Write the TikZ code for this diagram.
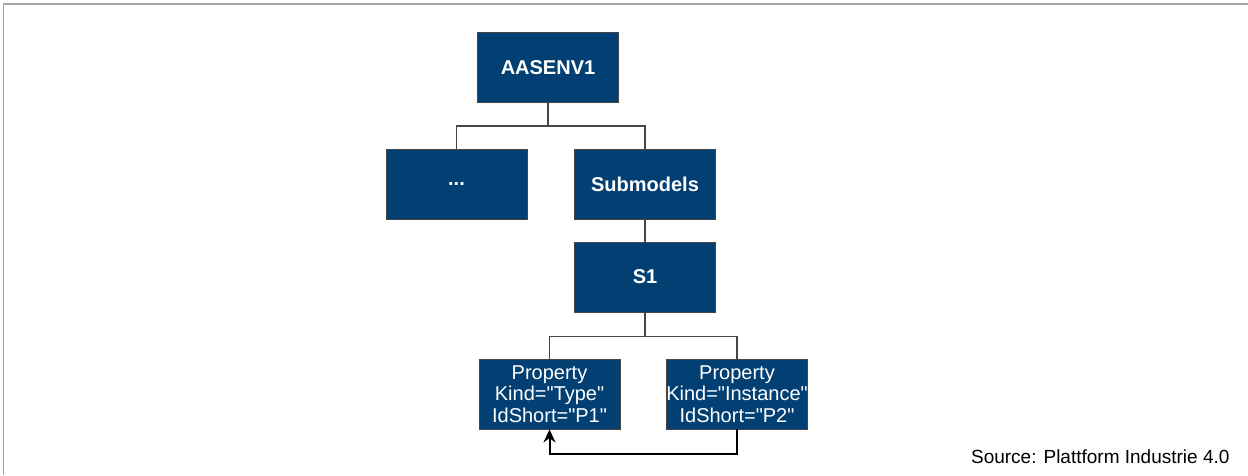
\documentclass[tikz,border=0pt]{standalone}
\usepackage{fontspec}
\setmainfont{Liberation Sans}
\usetikzlibrary{arrows.meta}
\definecolor{aasblue}{RGB}{2,64,115}
\definecolor{linegray}{RGB}{70,70,70}
\newcommand{\sq}{\XeTeXglyph\XeTeXglyphindex"quotedbl"\relax}
\begin{document}
\begin{tikzpicture}[x=1pt,y=-1pt,
    aasbox/.style={draw=linegray, line width=0.8pt, fill=aasblue, text=white,
                   minimum width=141pt, minimum height=70pt, inner sep=0pt,
                   align=center, font=\fontsize{20}{22}\selectfont\bfseries},
    propbox/.style={aasbox, font=\fontsize{20}{21.5}\selectfont},
    tree/.style={draw=linegray, line width=1.2pt},
    link/.style={draw=black, line width=2pt, -{Stealth[length=13pt,width=12pt]}}]
    \useasboundingbox (0,0) rectangle (1248,475);
    % Rahmen
    \draw[gray!70, line width=1.6pt] (3.5,475) -- (3.5,4) -- (1248,4);

    % Knoten
    \node[aasbox] (env) at (548,67.5) {AASENV1};
    \node[aasbox] (dots) at (456.5,184.5) {...};
    \node[aasbox] (sub) at (645,184.5) {Submodels};
    \node[aasbox] (s1) at (645,277) {S1};
    \node[propbox] (p1) at (549.5,394) {Property\\Kind=\sq Type\sq\\IdShort=\sq P1\sq};
    \node[propbox] (p2) at (737,394) {Property\\Kind=\sq Instance\sq\\IdShort=\sq P2\sq};

    % Verbindungen
    \draw[tree] (env.south) -- ++(0,23) coordinate (bus1) -| (dots.north);
    \draw[tree] (bus1) -| (sub.north);
    \draw[tree] (sub.south) -- (s1.north);
    \draw[tree] (s1.south) -- ++(0,24) coordinate (bus2) -| (p1.north);
    \draw[tree] (bus2) -| (p2.north);
    \draw[link] (p2.south) -- ++(0,25) -| (p1.south);

    % Quelle
    \node[anchor=base east, font=\fontsize{19}{21}\selectfont] (src) at (1233,463) {Source: Plattform Industrie 4.0};
\end{tikzpicture}
\end{document}
